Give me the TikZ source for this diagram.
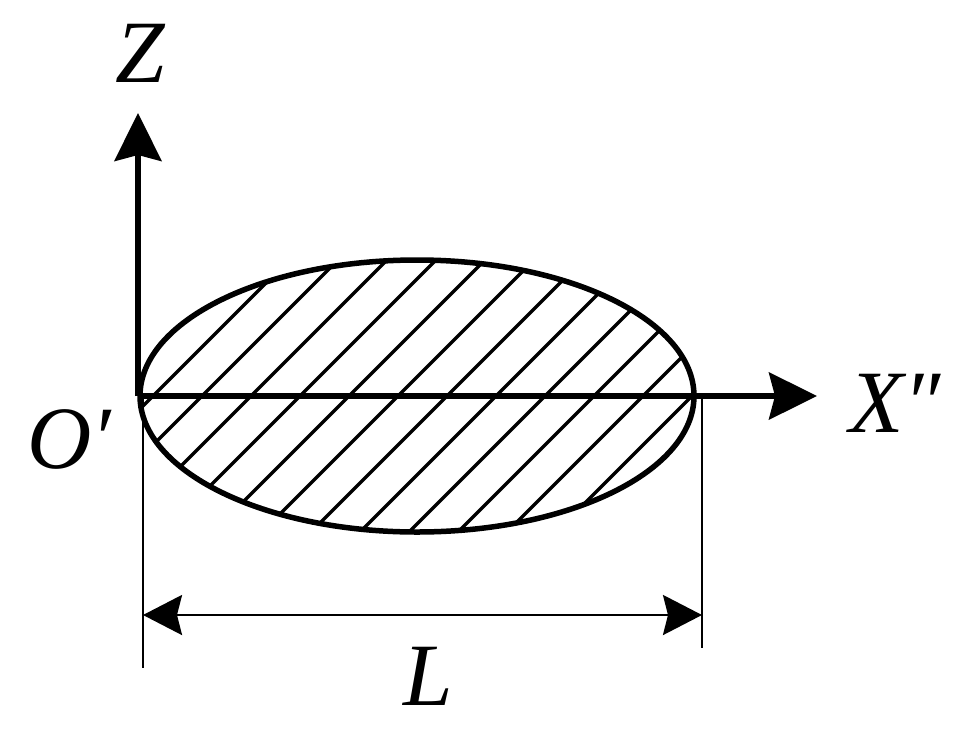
\documentclass[tikz,border=0pt]{standalone}
\usepackage{fontspec}
\setmainfont{Liberation Serif}[ItalicFont={Liberation Serif Italic}]
\newfontfamily\lblfont{Liberation Serif Italic}
\usetikzlibrary{arrows.meta}
\begin{document}
\begin{tikzpicture}[x=1pt,y=-1pt,
  axisline/.style={line width=5.5pt},
  bigtip/.style={-{Stealth[length=48pt,width=47pt,inset=6pt]}},
  dimline/.style={line width=2.6pt},
  dimtip/.style={{Stealth[length=39pt,width=40pt,inset=5pt]}-{Stealth[length=39pt,width=40pt,inset=5pt]}},
  hatchline/.style={line width=3.4pt,black},
  lbl/.style={font=\fontsize{89}{100}\selectfont\lblfont,inner sep=0pt}]
\useasboundingbox (0,0) rectangle (971,731);
% coordinates
\coordinate (O) at (138,396);
\coordinate (Ztip) at (138,113);
\coordinate (Xtip) at (817,396);
\coordinate (C) at (417,396);
\coordinate (LT) at (143,396);
\coordinate (LB) at (143,668);
\coordinate (RT) at (702,396);
\coordinate (RB) at (702,648);
\coordinate (DL) at (143,615);
\coordinate (DR) at (702,615);
% hatching
\begin{scope}
  \clip (C) ellipse [x radius=277, y radius=136];
  \foreach \k in {0,...,11} {
    \pgfmathsetmacro{\c}{549+49*\k}
    \draw[hatchline] (\c-800,800) -- (\c,0);
  }
\end{scope}
\draw[axisline] (C) ellipse [x radius=277, y radius=136];
% dimension
\draw[dimline] (LT) -- (LB);
\draw[dimline] (RT) -- (RB);
\draw[dimline,dimtip] (DL) -- (DR);
% axes
\draw[axisline,bigtip] (O) -- (Ztip);
\draw[axisline,bigtip] (O) -- (Xtip);
% labels
\node[lbl,anchor=base] (zl) at (140,82) {Z};
\node[lbl,anchor=base west] (ol) at (27,468) {O′};
\node[lbl,anchor=base west] (xl) at (849,432) {X″};
\node[lbl,anchor=base] (ll) at (428,705) {L};
\end{tikzpicture}
\end{document}
